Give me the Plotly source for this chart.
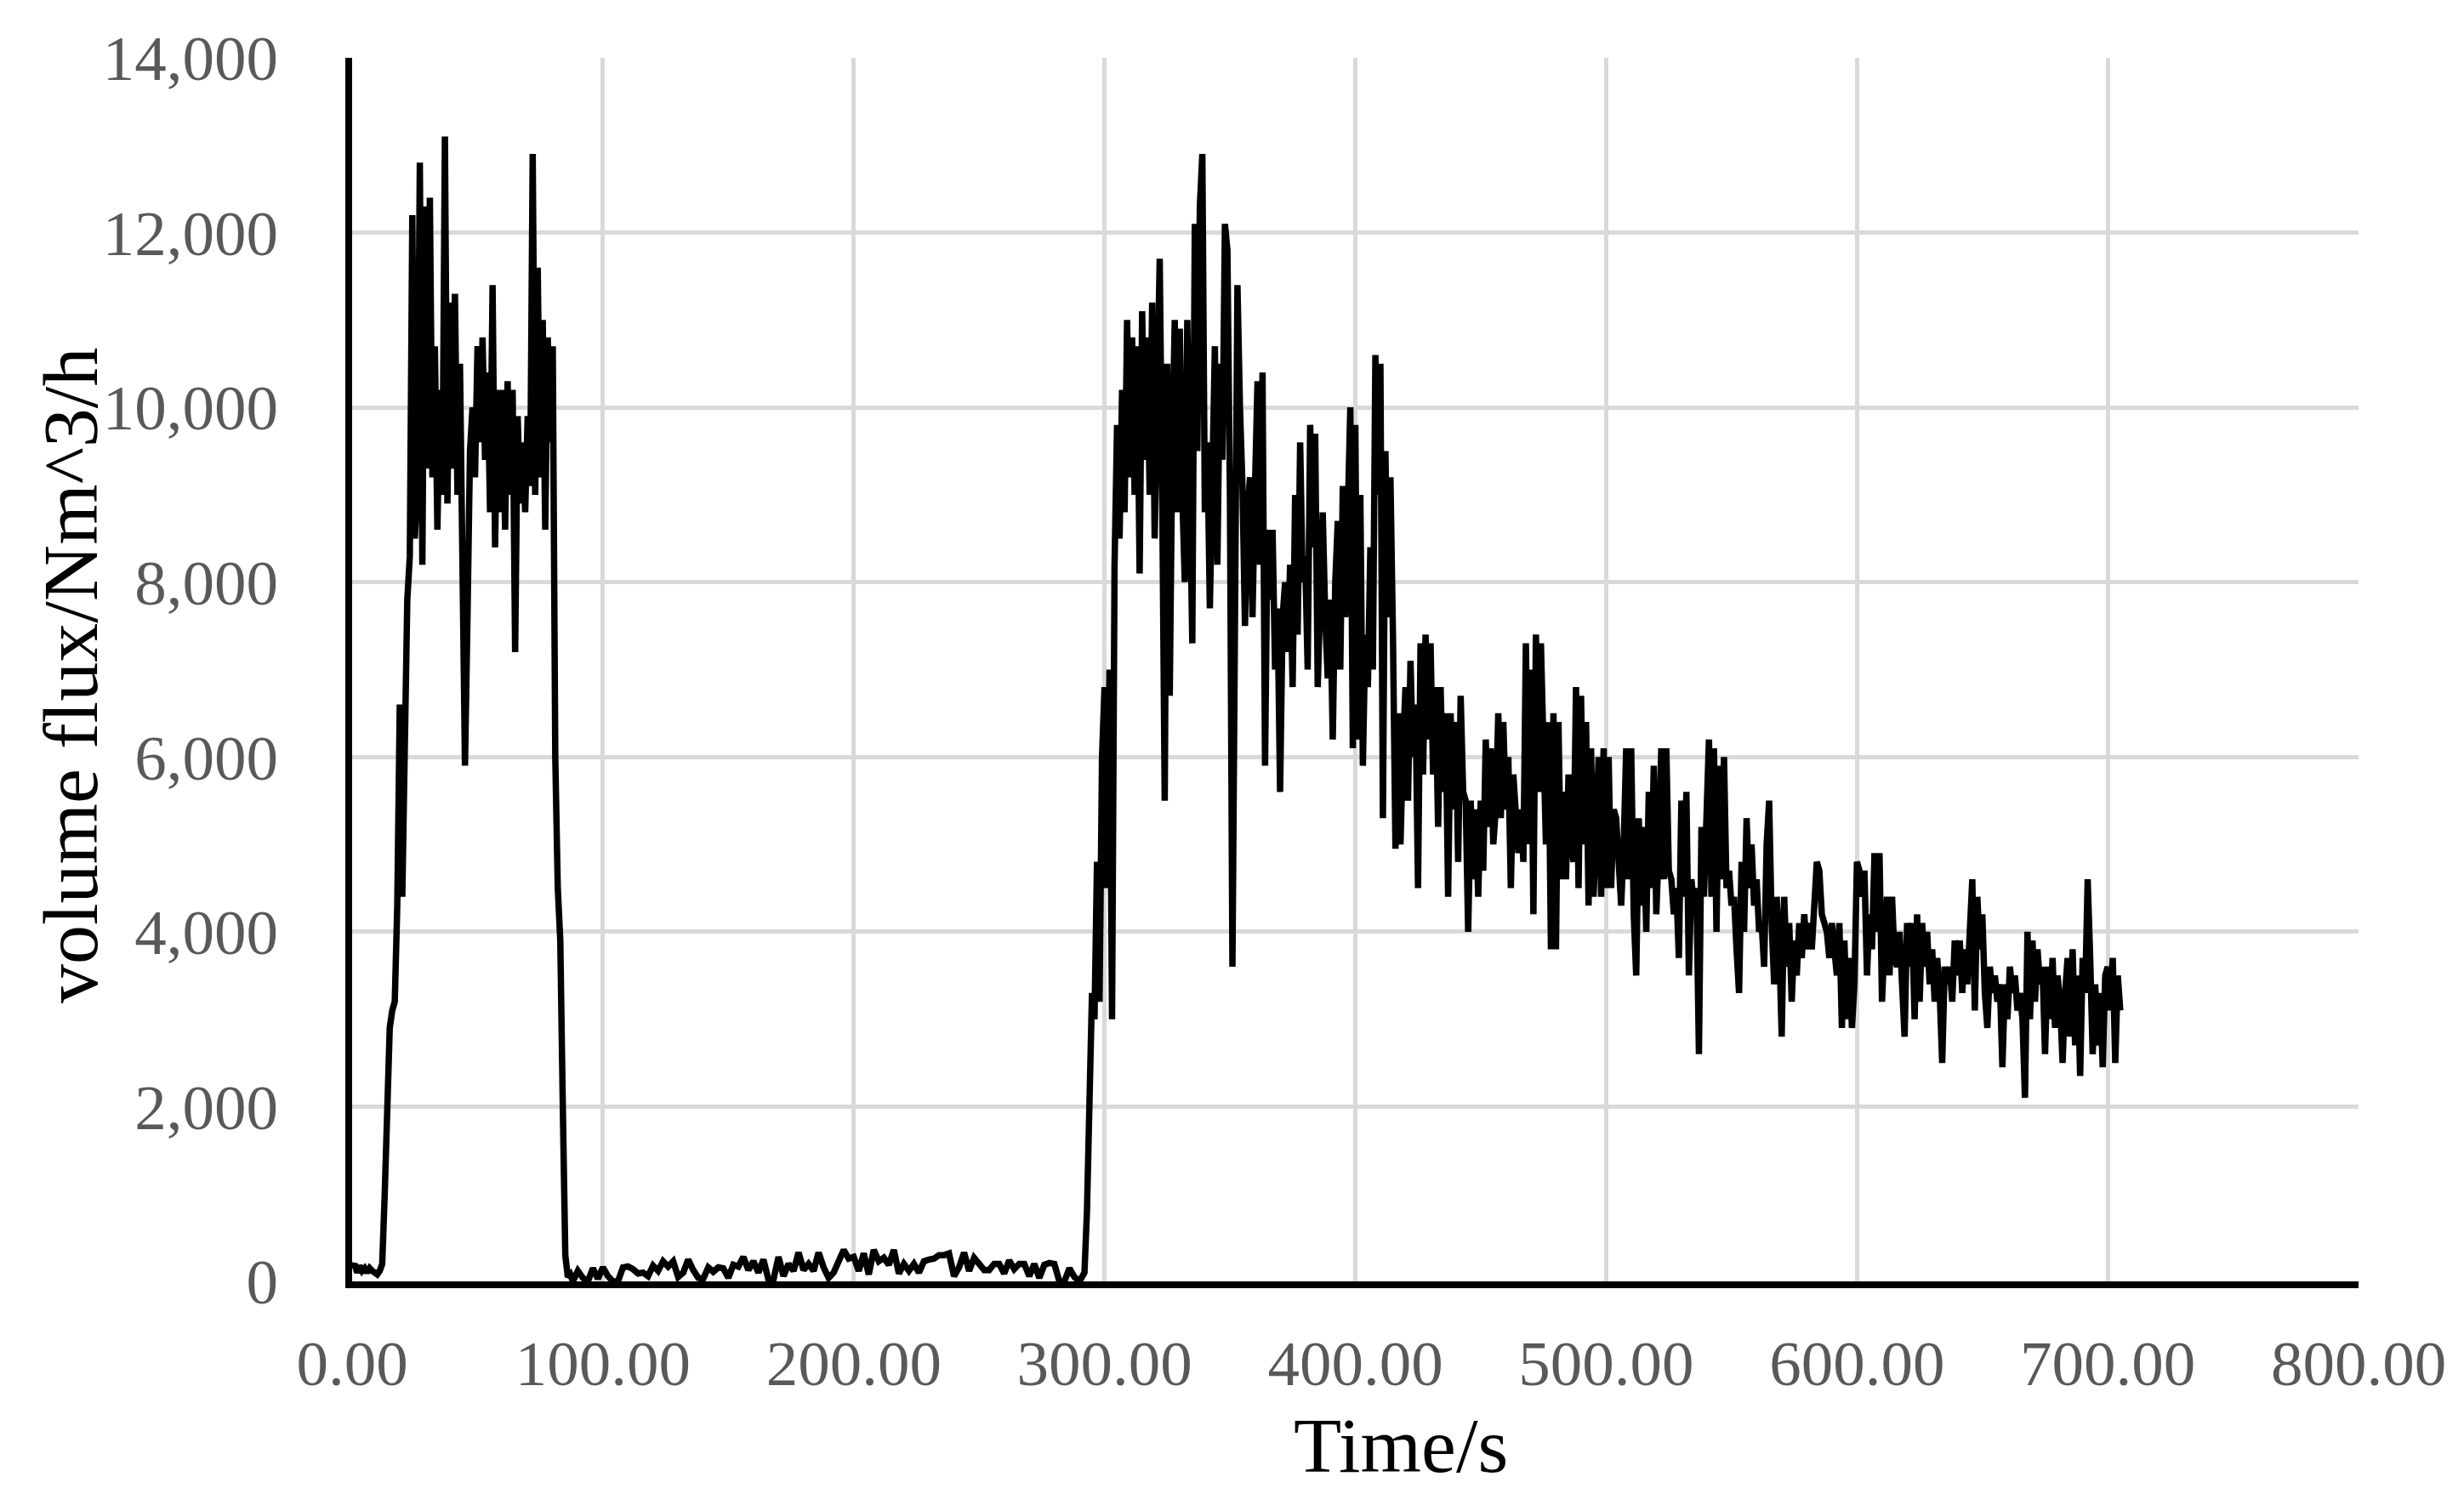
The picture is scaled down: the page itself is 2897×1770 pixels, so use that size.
import plotly.graph_objects as go

# ---- data (volume flux, Nm^3/h) ----
# first burst, 1 s samples starting at t = 0 s
burst1_start = 0
burst1 = [
    150, 200, 100, 180, 120, 150, 100, 150, 120, 100,
    80, 120, 200, 1000, 2000, 2900, 3100, 3200, 4300, 6600,
    4400, 6700, 7800, 8300, 12200, 8500, 9100, 12800, 8200, 12300,
    9300, 12400, 9200, 10700, 8600, 10200, 9000, 13100, 8900, 11200,
    9300, 11300, 9000, 10500, 7600, 5900, 7600, 9500, 10000, 9200,
    10700, 9600, 10800, 9400, 10400, 8800, 11400, 8400, 10200, 8800,
    10200, 8600, 10300, 9000, 10200, 7200, 9900, 8900, 9600, 8800,
    9900, 9100, 12900, 9000, 11600, 9200, 11000, 8600, 10800, 9600,
    10700, 6000, 4500, 3900, 2000, 300, 50, 80,
]

# quiet period, 2 s samples starting at t = 88 s
quiet_start = 88
quiet = [
    0, 120, 40, 0, 150, 30, 160, 60, 0, 0,
    160, 170, 140, 90, 100, 60, 180, 120, 230, 170,
    230, 50, 100, 250, 130, 40, 30, 160, 110, 160,
    150, 40, 190, 170, 280, 130, 230, 100, 250, 20,
    20, 280, 60, 200, 120, 330, 130, 200, 120, 330,
    160, 40, 100, 230, 360, 260, 280, 120, 320, 80,
    360, 230, 270, 190, 360, 90, 200, 120, 200, 100,
    230, 250, 260, 300, 300, 320, 60, 160, 330, 120,
    270, 200, 130, 130, 200, 200, 90, 240, 140, 200,
    200, 60, 200, 40, 190, 210, 200, 0, 0, 150,
    50, 0, 100,
]

# second burst, 1 s samples starting at t = 293 s
burst2_start = 293
burst2 = [
    800, 2000, 3300, 3000, 4800, 3200, 6000,
    6800, 4500, 7000, 3000, 8200, 9800, 8500, 10200, 8800, 11000,
    9200, 10800, 9000, 10700, 8100, 11100, 9400, 10800, 9000, 11200,
    8500, 9800, 11700, 9000, 5500, 10500, 6700, 9500, 11000, 8800,
    10900, 9000, 8000, 11000, 9200, 7300, 12100, 9500, 12300, 12900,
    8800, 9600, 7700, 9400, 10700, 8200, 10500, 9400, 12100, 11800,
    9000, 3600, 8000, 11400, 10000, 9100, 7500, 8800, 9200, 7600,
    9100, 10300, 8200, 10400, 5900, 8600, 7800, 8600, 7000, 7700,
    5600, 7600, 8000, 7200, 8200, 6800, 9000, 7400, 9600, 8000,
    8300, 7000, 9800, 8400, 9700, 6800, 7800, 8800, 7600, 6900,
    7800, 6200, 8000, 8700, 7000, 9100, 7600, 8800, 10000, 6100,
    9800, 6200, 9000, 5900, 7400, 6800, 8400, 7000, 10600, 9000,
    10500, 5300, 9500, 7600, 9200, 7400, 4950, 6500, 5000, 6100,
    6800, 5500, 7100, 6000, 6600, 4500, 7300, 5800, 7400, 6200,
    7300, 5800, 6800, 5200, 6800, 5600, 6500, 4400, 6500, 5400,
    6400, 4800, 6700, 5600, 5500, 4000, 5500, 4600, 5400, 4400,
    5500, 4700, 6200, 5200, 6100, 5000, 5400, 6500, 5300, 6400,
    5400, 6000, 4500, 5800, 5400, 4900, 5400, 4800, 7300, 5000,
    7000, 4200, 7400, 5600, 7300, 6000, 5000, 6400, 3800, 6500,
    3800, 6400, 4600, 5600, 4600, 5800, 5000, 4800, 6800, 4500,
    6700, 5000, 6400, 4300, 6100, 4400, 5500, 6000, 4400, 6100,
    4500, 6000, 4500, 5400, 5300, 4800, 4300, 5000, 6100, 4600,
    6100, 4200, 3500, 5300, 4300, 5200, 4000, 5600, 4500, 5900,
    4200, 5000, 6100, 4600, 6100, 4700, 4600, 4200, 4500, 3700,
    5500, 4400, 5600, 3500, 4600, 4300, 4500, 2600, 5200, 4400,
    5300, 6200, 4400, 6100, 4000, 5900, 4600, 6000, 4500, 4700,
    4300, 4400, 3800, 3300, 4800, 4000, 5300, 4500, 5000, 4300,
    4600, 4000, 4100, 3600, 5000, 5500, 4100, 3400, 4400, 3900,
    2800, 4400, 3600, 4100, 3200, 3900, 3500, 4100, 3700, 4200,
    3800, 4100, 3800, 4500, 4800, 4700, 4200, 4100, 4000, 3700,
    4100, 3800, 3500, 4100, 2900, 3900, 3000, 3700, 2900, 3400,
    4800, 4700, 4400, 4700, 3500, 4200, 3800, 4900, 4000, 4900,
    3200, 3900, 4400, 3500, 4400, 3700, 3600, 4000, 3300, 2800,
    4100, 3600, 4100, 3000, 4200, 3200, 4100, 3600, 4000, 3400,
    3800, 3200, 3700, 3300, 2500, 3600, 3400, 3600, 3200, 3900,
    3500, 3900, 3300, 3800, 3400, 3900, 4600, 3100, 4400, 3800,
    4200, 3300, 2900, 3600, 3300, 3500, 3200, 3400, 2450, 3400,
    3000, 3600, 3300, 3500, 3100, 3300, 3000, 2100, 4000, 3000,
    3900, 3200, 3800, 3400, 3600, 2600, 3600, 3000, 3700, 2900,
    3500, 3200, 2500, 3300, 3700, 2800, 3800, 2700, 3500, 2350,
    3700, 3300, 4600, 3700, 2600, 3400, 2700, 3300, 2450, 3500,
    3600, 3100, 3700, 2500, 3500, 3100,
]

x_ticks = [0, 100, 200, 300, 400, 500, 600, 700, 800]
y_ticks = [0, 2000, 4000, 6000, 8000, 10000, 12000, 14000]
x_title = "Time/s"
y_title = "volume flux/Nm^3/h"

# sample times of each segment
t1 = [burst1_start + i for i in range(len(burst1))]
tq = [quiet_start + 2 * i for i in range(len(quiet))]
t2 = [burst2_start + i for i in range(len(burst2))]
times = t1 + tq + t2
flux = burst1 + quiet + burst2

SERIF = "Liberation Serif, Times New Roman, serif"

fig = go.Figure()
fig.add_trace(go.Scatter(
    x=times, y=flux, mode="lines",
    line=dict(color="black", width=7.5),
    hoverinfo="x+y",
))

axis_common = dict(
    showgrid=True, gridcolor="#d9d9d9", gridwidth=5,
    showline=True, linecolor="black", linewidth=8,
    zeroline=False, ticks="",
    tickfont=dict(family=SERIF, size=75, color="#595959"),
)

fig.update_xaxes(range=[0, 800], tickmode="array", tickvals=x_ticks,
                 tickformat=".2f", ticklabelstandoff=24, **axis_common)
fig.update_yaxes(range=[0, 14000], tickmode="array", tickvals=y_ticks,
                 tickformat=",d", ticklabelstandoff=64, **axis_common)

fig.add_annotation(text=x_title, xref="paper", yref="paper",
                   x=0.5227, y=-0.134, xanchor="center", yanchor="middle",
                   showarrow=False, font=dict(family=SERIF, size=92, color="black"))
fig.add_annotation(text=y_title, xref="paper", yref="paper",
                   x=-0.1403, y=0.4948, xanchor="center", yanchor="middle",
                   textangle=-90, showarrow=False,
                   font=dict(family=SERIF, size=92, color="black"))

fig.update_layout(
    width=2889, height=1762,
    margin=dict(l=406, r=124, t=60, b=263),
    plot_bgcolor="white", paper_bgcolor="white",
    showlegend=False,
)

fig.write_html("out.html")
